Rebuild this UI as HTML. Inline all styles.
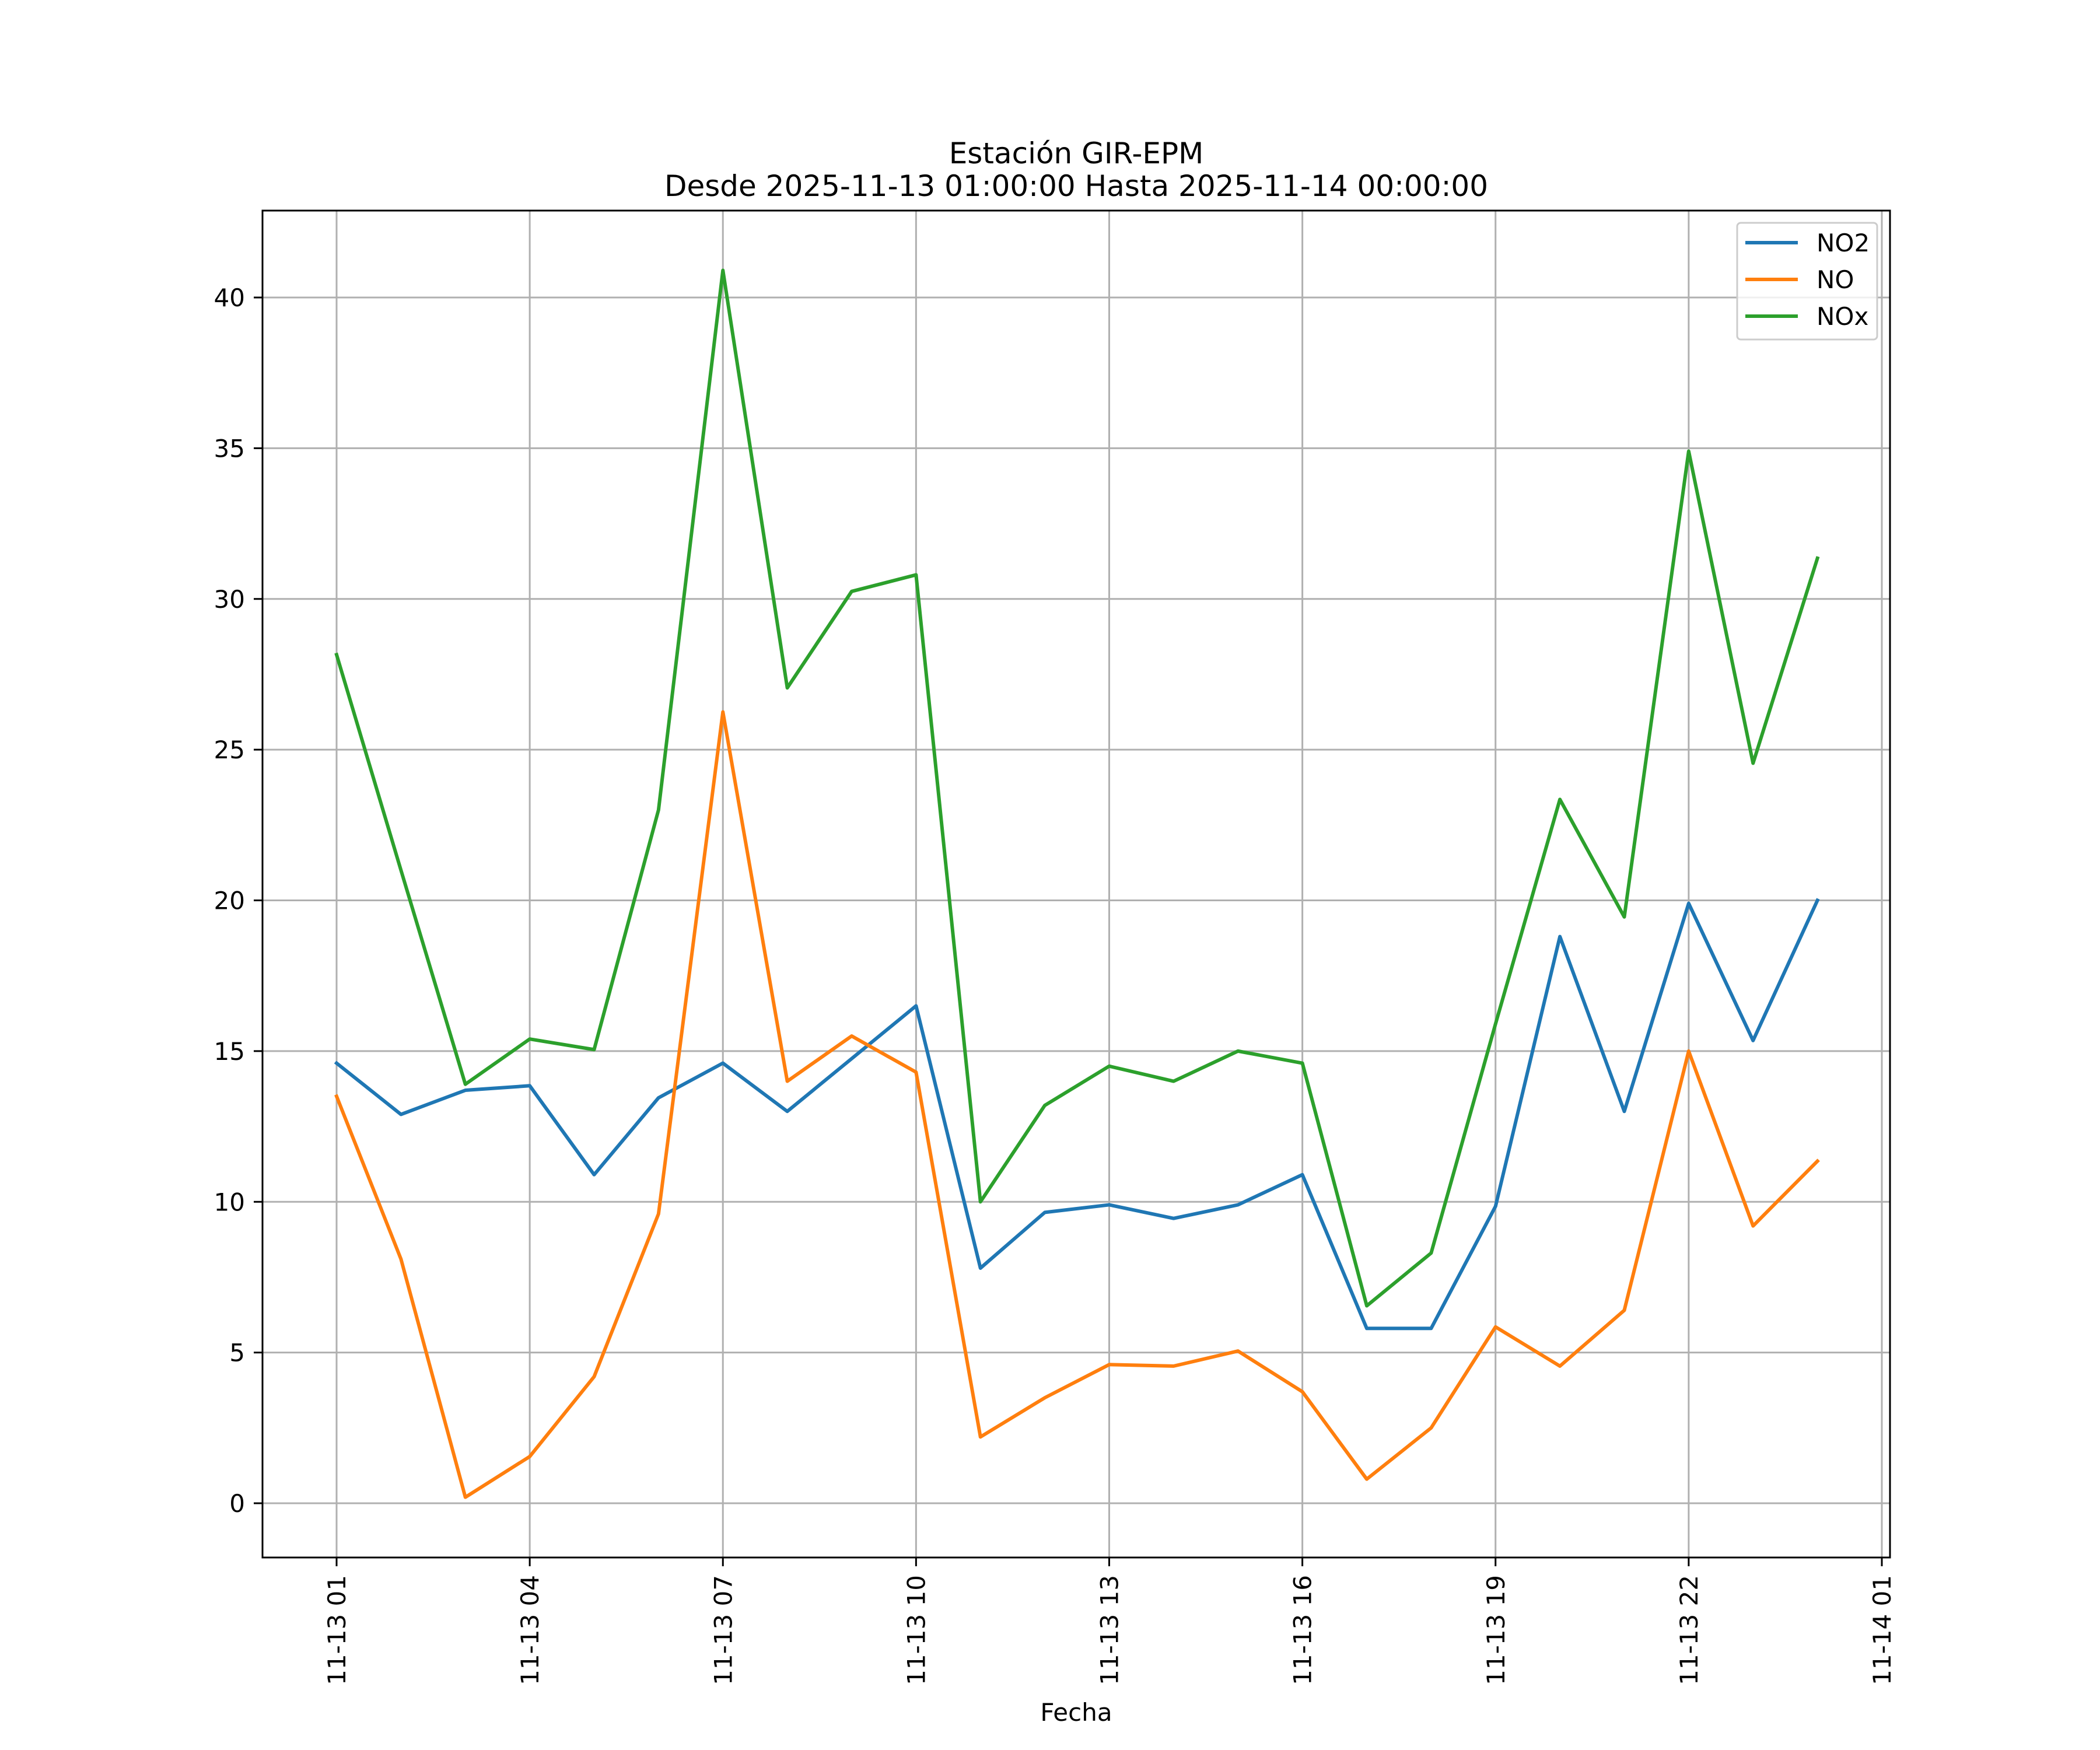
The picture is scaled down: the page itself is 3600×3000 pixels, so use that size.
<!DOCTYPE html>
<html><head><meta charset="utf-8"><style>
html,body{margin:0;padding:0;background:#fff}
svg{display:block;font-family:"DejaVu Sans","Liberation Sans",sans-serif}
</style></head><body>
<svg id="chart" width="3600" height="3000" viewBox="0 0 3600 3000">
<rect width="3600" height="3000" fill="#fff"/>
<text x="1845" y="280" font-size="50" text-anchor="middle">Estación GIR-EPM</text>
<text x="1845" y="336" font-size="50" text-anchor="middle">Desde 2025-11-13 01:00:00 Hasta 2025-11-14 00:00:00</text>
<text x="1845" y="2950" font-size="42" text-anchor="middle">Fecha</text>
<g id="grid"></g>
<g id="series"></g>
<rect x="450" y="361" width="2790" height="2309" fill="none" stroke="#000" stroke-width="3"/>
<g id="ticks"></g>
<g id="legend">
<rect x="2978" y="382" width="240" height="200" rx="6" fill="#fff" fill-opacity="0.8" stroke="#ccc" stroke-width="3"/>
<line x1="2992" y1="416" x2="3082" y2="416" stroke="#1f77b4" stroke-width="6"/>
<text x="3114" y="431" font-size="42">NO2</text>
<line x1="2992" y1="479" x2="3082" y2="479" stroke="#ff7f0e" stroke-width="6"/>
<text x="3114" y="494" font-size="42">NO</text>
<line x1="2992" y1="542" x2="3082" y2="542" stroke="#2ca02c" stroke-width="6"/>
<text x="3114" y="557" font-size="42">NOx</text>
</g>
</svg>
<script>
const hours = [1,2,3,4,5,6,7,8,9,10,11,12,13,14,15,16,17,18,19,20,21,22,23,24];
const no2 = [14.6,12.9,13.7,13.85,10.9,13.45,14.6,13.0,14.75,16.5,7.8,9.65,9.9,9.45,9.9,10.9,5.8,5.8,9.85,18.8,13.0,19.9,15.35,20.0];
const no = [13.5,8.1,0.2,1.55,4.2,9.6,26.25,14.0,15.5,14.3,2.2,3.5,4.6,4.55,5.05,3.7,0.8,2.5,5.85,4.55,6.4,15.0,9.2,11.35];
const nox = [28.15,21.0,13.9,15.4,15.05,23.0,40.9,27.05,30.25,30.8,10.0,13.2,14.5,14.0,15.0,14.6,6.55,8.3,15.9,23.35,19.45,34.9,24.55,31.35];
const yTicks = [0,5,10,15,20,25,30,35,40];
const xTickHours = [1,4,7,10,13,16,19,22,25];
const xTickLabels = ["11-13 01","11-13 04","11-13 07","11-13 10","11-13 13","11-13 16","11-13 19","11-13 22","11-14 01"];

const NS="http://www.w3.org/2000/svg";
const X = h => 577 + (h-1)*(3226-577)/24;
const Y = v => 2577 - v*(2577-510)/40;
function mk(tag, attrs, parent){const e=document.createElementNS(NS,tag);for(const k in attrs)e.setAttribute(k,attrs[k]);parent.appendChild(e);return e;}
const grid=document.getElementById('grid'), ticks=document.getElementById('ticks'), ser=document.getElementById('series');
yTicks.forEach(v=>{
  const g=mk('line',{x1:450,x2:3240,y1:Y(v),y2:Y(v),stroke:'#b0b0b0','stroke-width':3},grid);
  
  
  const t=mk('line',{x1:435,x2:450,y1:Y(v),y2:Y(v),stroke:'#000','stroke-width':3},ticks);
  
  
  const l=mk('text',{x:420,y:Y(v)+15,'font-size':42,'text-anchor':'end'},ticks);
  l.textContent=v;
  
  
});
xTickHours.forEach((h,i)=>{
  const g=mk('line',{x1:X(h),x2:X(h),y1:361,y2:2670,stroke:'#b0b0b0','stroke-width':3},grid);
  
  
  const t=mk('line',{x1:X(h),x2:X(h),y1:2670,y2:2685,stroke:'#000','stroke-width':3},ticks);
  
  
  const l=mk('text',{x:0,y:0,'font-size':42,'text-anchor':'end',transform:`translate(${X(h)+15},2700) rotate(-90)`},ticks);
  l.textContent=xTickLabels[i];
  
  
});
[[no2,'#1f77b4','line-no2'],[no,'#ff7f0e','line-no'],[nox,'#2ca02c','line-nox']].forEach(([d,c,n])=>{
  const p=mk('polyline',{points:d.map((v,i)=>X(hours[i])+','+Y(v)).join(' '),fill:'none',stroke:c,'stroke-width':6,'stroke-linejoin':'round','stroke-linecap':'square'},ser);
  
  
});
</script>
</body></html>
